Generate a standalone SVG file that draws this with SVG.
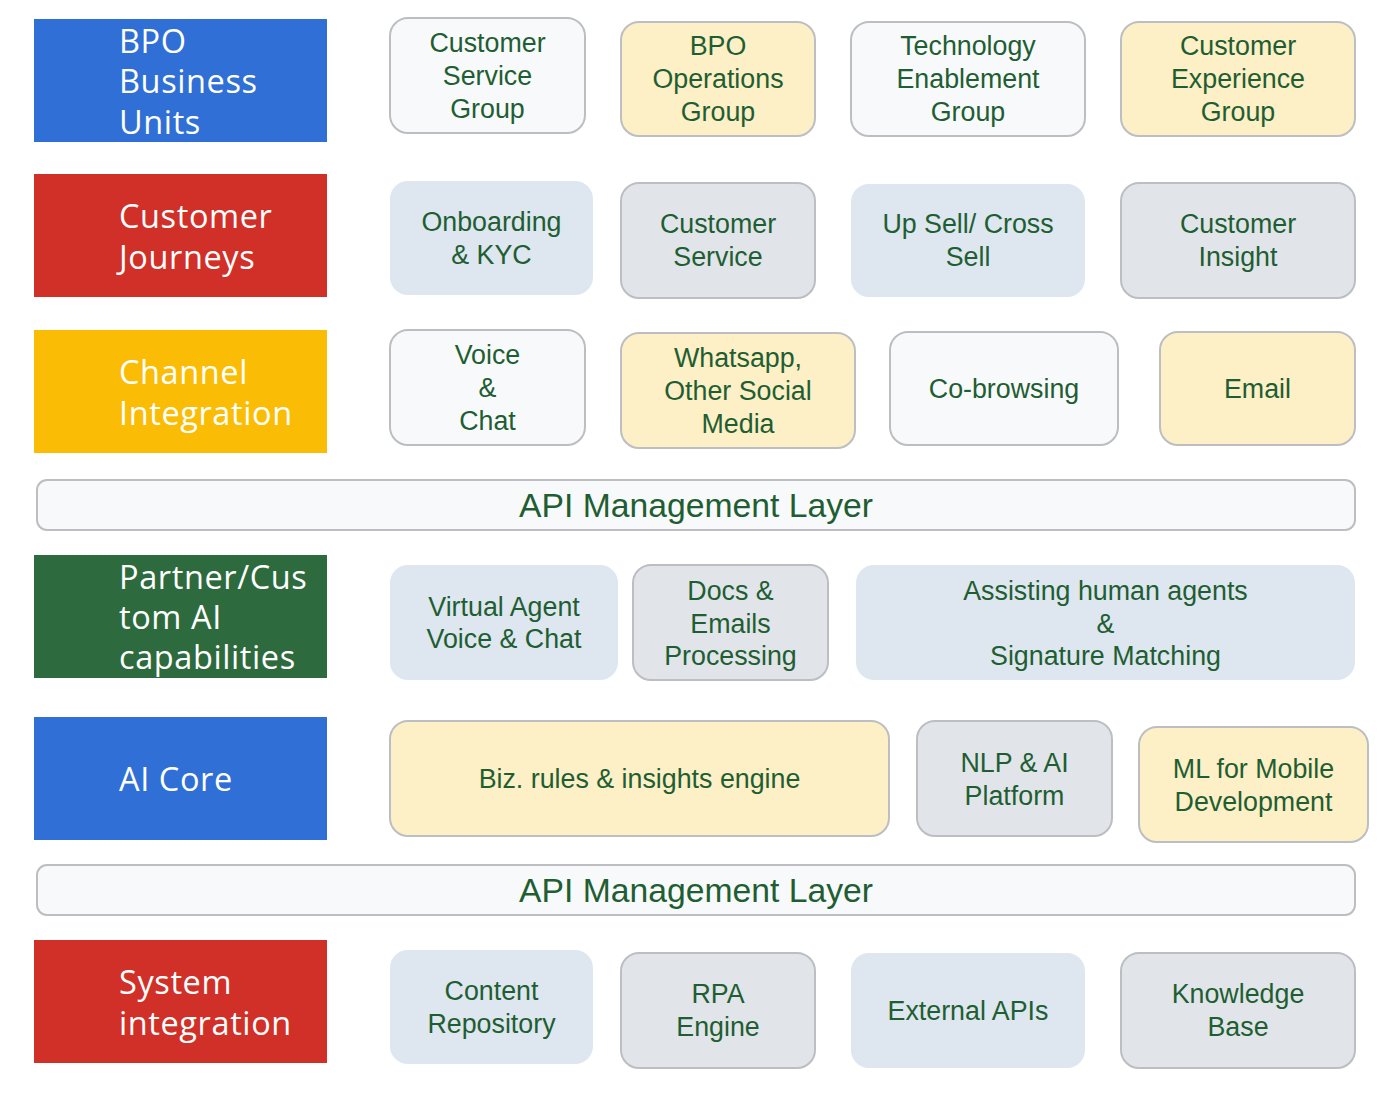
<svg xmlns="http://www.w3.org/2000/svg" width="1400" height="1103" viewBox="0 0 1400 1103">
<style>
.lab{font-family:"Open Sans","DejaVu Sans",sans-serif;font-size:32.5px;letter-spacing:0.6px;fill:#ffffff;}
.t{font-family:"Liberation Sans",Arial,sans-serif;font-size:26.8px;fill:#1e5e32;text-anchor:middle;}
.api{font-family:"Liberation Sans",Arial,sans-serif;font-size:33.7px;fill:#1e5e32;text-anchor:middle;}
.w{fill:#f8f9fb;stroke:#bcbec2;stroke-width:2;}
.y{fill:#fdefc6;stroke:#bcbec2;stroke-width:2;}
.g{fill:#e1e5ea;stroke:#bcbec2;stroke-width:2;}
.b{fill:#dee6ef;stroke:none;}
</style>
<rect width="1400" height="1103" fill="#ffffff"/>
<g id="labels">
<g id="lab-bpo"><rect x="34" y="19" width="293" height="123" fill="#2f6fd6"/><text class="lab" x="119" y="53">BPO</text><text class="lab" x="119" y="93">Business</text><text class="lab" x="119" y="134">Units</text></g>
<g id="lab-cj"><rect x="34" y="174" width="293" height="123" fill="#d03027"/><text class="lab" x="119" y="228">Customer</text><text class="lab" x="119" y="269">Journeys</text></g>
<g id="lab-ch"><rect x="34" y="330" width="293" height="123" fill="#fbbc05"/><text class="lab" x="119" y="384">Channel</text><text class="lab" x="119" y="425">Integration</text></g>
<g id="lab-ai"><rect x="34" y="555" width="293" height="123" fill="#2d6a3e"/><text class="lab" x="119" y="589">Partner/Cus</text><text class="lab" x="119" y="629">tom AI</text><text class="lab" x="119" y="669">capabilities</text></g>
<g id="lab-core"><rect x="34" y="717" width="293" height="123" fill="#2f6fd6"/><text class="lab" x="119" y="791">AI Core</text></g>
<g id="lab-sys"><rect x="34" y="940" width="293" height="123" fill="#d03027"/><text class="lab" x="119" y="994">System</text><text class="lab" x="119" y="1035">integration</text></g>
</g>
<g id="row1">
<g id="n-csg"><rect class="w" x="390" y="18" width="195" height="115" rx="18"/><text class="t" x="487.5" y="52">Customer</text><text class="t" x="487.5" y="85">Service</text><text class="t" x="487.5" y="118">Group</text></g>
<g id="n-bpo"><rect class="y" x="621" y="22" width="194" height="114" rx="18"/><text class="t" x="718" y="55">BPO</text><text class="t" x="718" y="88">Operations</text><text class="t" x="718" y="121">Group</text></g>
<g id="n-teg"><rect class="w" x="851" y="22" width="234" height="114" rx="18"/><text class="t" x="968" y="55">Technology</text><text class="t" x="968" y="88">Enablement</text><text class="t" x="968" y="121">Group</text></g>
<g id="n-ceg"><rect class="y" x="1121" y="22" width="234" height="114" rx="18"/><text class="t" x="1238" y="55">Customer</text><text class="t" x="1238" y="88">Experience</text><text class="t" x="1238" y="121">Group</text></g>
</g>
<g id="row2">
<g id="n-onb"><rect class="b" x="390" y="181" width="203" height="114" rx="18"/><text class="t" x="491.5" y="231">Onboarding</text><text class="t" x="491.5" y="264">&amp; KYC</text></g>
<g id="n-cs"><rect class="g" x="621" y="183" width="194" height="115" rx="18"/><text class="t" x="718" y="233">Customer</text><text class="t" x="718" y="266">Service</text></g>
<g id="n-up"><rect class="b" x="851" y="184" width="234" height="113" rx="18"/><text class="t" x="968" y="233">Up Sell/ Cross</text><text class="t" x="968" y="266">Sell</text></g>
<g id="n-ci"><rect class="g" x="1121" y="183" width="234" height="115" rx="18"/><text class="t" x="1238" y="233">Customer</text><text class="t" x="1238" y="266">Insight</text></g>
</g>
<g id="row3">
<g id="n-vc"><rect class="w" x="390" y="330" width="195" height="115" rx="18"/><text class="t" x="487.5" y="364">Voice</text><text class="t" x="487.5" y="397">&amp;</text><text class="t" x="487.5" y="430">Chat</text></g>
<g id="n-wa"><rect class="y" x="621" y="333" width="234" height="115" rx="18"/><text class="t" x="738" y="367">Whatsapp,</text><text class="t" x="738" y="400">Other Social</text><text class="t" x="738" y="433">Media</text></g>
<g id="n-co"><rect class="w" x="890" y="332" width="228" height="113" rx="18"/><text class="t" x="1004" y="398">Co-browsing</text></g>
<g id="n-em"><rect class="y" x="1160" y="332" width="195" height="113" rx="18"/><text class="t" x="1257.5" y="398">Email</text></g>
</g>
<g id="api1"><rect class="w" x="37" y="480" width="1318" height="50" rx="10"/><text class="api" x="696" y="517">API Management Layer</text></g>
<g id="row4">
<g id="n-va"><rect class="b" x="390" y="565" width="228" height="115" rx="18"/><text class="t" x="504" y="616">Virtual Agent</text><text class="t" x="504" y="648">Voice &amp; Chat</text></g>
<g id="n-doc"><rect class="g" x="633" y="565" width="195" height="115" rx="18"/><text class="t" x="730.5" y="600">Docs &amp;</text><text class="t" x="730.5" y="633">Emails</text><text class="t" x="730.5" y="665">Processing</text></g>
<g id="n-ah"><rect class="b" x="856" y="565" width="499" height="115" rx="18"/><text class="t" x="1105.5" y="600">Assisting human agents</text><text class="t" x="1105.5" y="633">&amp;</text><text class="t" x="1105.5" y="665">Signature Matching</text></g>
</g>
<g id="row5">
<g id="n-biz"><rect class="y" x="390" y="721" width="499" height="115" rx="18"/><text class="t" x="639.5" y="788">Biz. rules &amp; insights engine</text></g>
<g id="n-nlp"><rect class="g" x="917" y="721" width="195" height="115" rx="18"/><text class="t" x="1014.5" y="772">NLP &amp; AI</text><text class="t" x="1014.5" y="805">Platform</text></g>
<g id="n-ml"><rect class="y" x="1139" y="727" width="229" height="115" rx="18"/><text class="t" x="1253.5" y="778">ML for Mobile</text><text class="t" x="1253.5" y="811">Development</text></g>
</g>
<g id="api2"><rect class="w" x="37" y="865" width="1318" height="50" rx="10"/><text class="api" x="696" y="902">API Management Layer</text></g>
<g id="row6">
<g id="n-cr"><rect class="b" x="390" y="950" width="203" height="114" rx="18"/><text class="t" x="491.5" y="1000">Content</text><text class="t" x="491.5" y="1033">Repository</text></g>
<g id="n-rpa"><rect class="g" x="621" y="953" width="194" height="115" rx="18"/><text class="t" x="718" y="1003">RPA</text><text class="t" x="718" y="1036">Engine</text></g>
<g id="n-ext"><rect class="b" x="851" y="953" width="234" height="115" rx="18"/><text class="t" x="968" y="1020">External APIs</text></g>
<g id="n-kb"><rect class="g" x="1121" y="953" width="234" height="115" rx="18"/><text class="t" x="1238" y="1003">Knowledge</text><text class="t" x="1238" y="1036">Base</text></g>
</g>
<g id="connectors"/>
</svg>
